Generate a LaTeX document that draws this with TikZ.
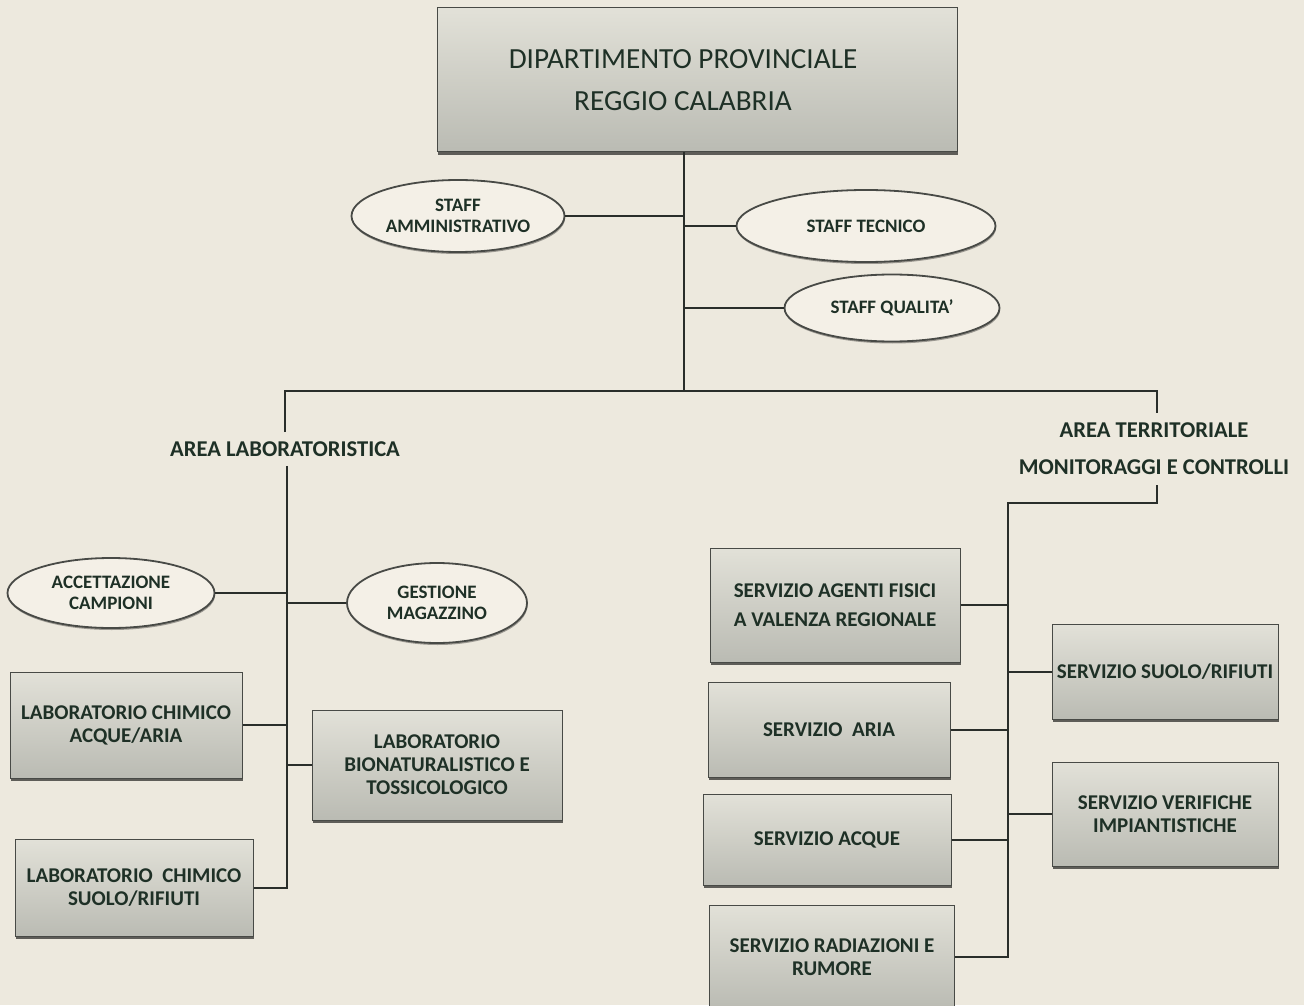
\documentclass[tikz,border=0pt]{standalone}
\usepackage{fontspec}
\setmainfont{Carlito}
\usetikzlibrary{shapes.geometric,shadows}
\definecolor{paper}{RGB}{237,233,222}
\definecolor{ink}{RGB}{30,48,38}
\definecolor{wire}{RGB}{42,46,42}
\definecolor{boxtop}{RGB}{226,225,216}
\definecolor{boxbot}{RGB}{186,187,179}
\definecolor{boxedge}{RGB}{72,74,70}
\definecolor{ovalfill}{RGB}{244,240,231}
\tikzset{
  size/.style 2 args={minimum width=#1*0.5pt, minimum height=#2*0.5pt},
  unitbox/.style={rectangle, inner sep=0pt, align=center, text=ink,
    font=\bfseries\fontsize{10.5}{11.5}\selectfont,
    top color=boxtop, bottom color=boxbot, draw=boxedge, line width=0.5pt,
    drop shadow={shadow xshift=0.4pt, shadow yshift=-1.3pt, fill=black, opacity=0.6}},
  staffoval/.style={ellipse, inner sep=0pt, align=center, text=ink,
    font=\bfseries\fontsize{9.5}{10.5}\selectfont,
    fill=ovalfill, draw=boxedge, line width=0.9pt,
    drop shadow={shadow xshift=0.3pt, shadow yshift=-1pt, fill=black, opacity=0.35}},
  arealabel/.style={inner sep=0pt, align=center, text=ink,
    font=\bfseries\fontsize{11.3}{18.5}\selectfont},
  conn/.style={draw=wire, line width=1.4pt},
}
\begin{document}
\begin{tikzpicture}[x=0.5pt,y=-0.5pt]
\fill[paper] (0,0) rectangle (1304,1005);
\useasboundingbox (0,0) rectangle (1304,1005);

% head office (text set a little left of the box centre)
\node[unitbox, size={520}{144}, font=\fontsize{14.6}{21.5}\selectfont] (top) at (697,80)
  {\hspace*{-14pt}DIPARTIMENTO PROVINCIALE\\[-0.6pt]\hspace*{-14pt}REGGIO CALABRIA};

% staff units
\node[staffoval, size={213}{72}] (amm) at (458,216) {STAFF\\AMMINISTRATIVO};
\node[staffoval, size={259}{72}] (tec) at (866,226) {STAFF TECNICO};
\node[staffoval, size={215}{67}] (qual) at (892,308) {STAFF QUALITA'};

% branch points
\coordinate (trunk) at (684,391);
\coordinate (busL) at (285,391);
\coordinate (busR) at (1157,391);
\coordinate (spineL) at (287,470);
\coordinate (spineR) at (1008,503);

% area labels
\node[arealabel, minimum height=33*0.5pt] (lab) at (285,449) {AREA LABORATORISTICA};
\node[arealabel, minimum height=72*0.5pt] (terr) at (1154,449)
  {AREA TERRITORIALE\\MONITORAGGI E CONTROLLI};

% laboratory area
\node[staffoval, size={207}{70}] (acc) at (111,593) {ACCETTAZIONE\\CAMPIONI};
\node[staffoval, size={180}{80}] (mag) at (437,603) {GESTIONE\\MAGAZZINO};
\node[unitbox, size={232}{106}] (lca) at (126,725) {LABORATORIO CHIMICO\\ACQUE/ARIA};
\node[unitbox, size={250}{110}] (lbt) at (437,765) {LABORATORIO\\BIONATURALISTICO E\\TOSSICOLOGICO};
\node[unitbox, size={238}{97}] (lcs) at (134,888) {LABORATORIO\ \ CHIMICO\\SUOLO/RIFIUTI};

% territorial area
\node[unitbox, size={250}{114}, font=\bfseries\fontsize{10.5}{14.5}\selectfont] (saf) at (835,605)
  {SERVIZIO AGENTI FISICI\\A VALENZA REGIONALE};
\node[unitbox, size={242}{95}] (sar) at (829,730) {SERVIZIO\ \ ARIA};
\node[unitbox, size={248}{91}] (sac) at (827,840) {SERVIZIO ACQUE};
\node[unitbox, size={245}{104}] (srr) at (832,957) {SERVIZIO RADIAZIONI E\\RUMORE};
\node[unitbox, size={226}{95}] (ssr) at (1165,672) {SERVIZIO SUOLO/RIFIUTI};
\node[unitbox, size={226}{104}] (svi) at (1165,814) {SERVIZIO VERIFICHE\\IMPIANTISTICHE};

% connectors: head office and staff
\draw[conn] (top.south -| trunk) -- (trunk);
\draw[conn] (amm.east) -- (amm.east -| trunk);
\draw[conn] (tec.west) -- (tec.west -| trunk);
\draw[conn] (qual.west) -- (qual.west -| trunk);
\draw[conn] (busL |- lab.north) -- (busL) -- (busR) -- (busR |- terr.north);

% connectors: laboratory area
\draw[conn] (spineL |- lab.south) -- (spineL |- lcs.east) -- (lcs.east);
\draw[conn] (acc.east) -- (acc.east -| spineL);
\draw[conn] (mag.west) -- (mag.west -| spineL);
\draw[conn] (lca.east) -- (lca.east -| spineL);
\draw[conn] (lbt.west) -- (lbt.west -| spineL);

% connectors: territorial area
\draw[conn] (busR |- terr.south) -- (busR |- spineR) -- (spineR) -- (spineR |- srr.east) -- (srr.east);
\draw[conn] (saf.east) -- (saf.east -| spineR);
\draw[conn] (sar.east) -- (sar.east -| spineR);
\draw[conn] (sac.east) -- (sac.east -| spineR);
\draw[conn] (ssr.west) -- (ssr.west -| spineR);
\draw[conn] (svi.west) -- (svi.west -| spineR);
\end{tikzpicture}
\end{document}
